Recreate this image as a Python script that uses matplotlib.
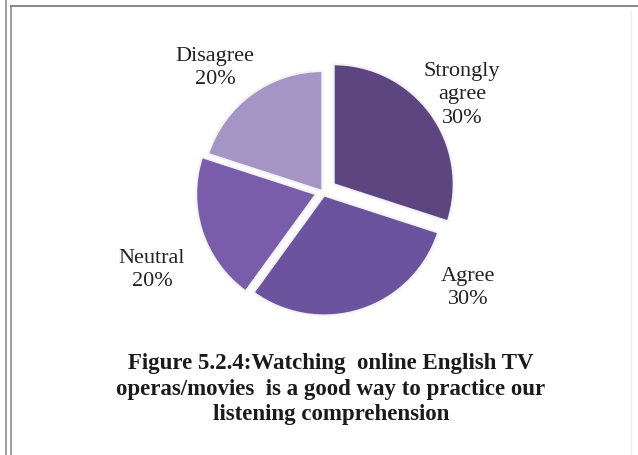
import matplotlib
matplotlib.use("Agg")
import matplotlib.pyplot as plt
from matplotlib.lines import Line2D

# data
categories = ["Strongly\nagree", "Agree", "Neutral", "Disagree"]
values = [30, 30, 20, 20]
colors = ["#5d4680", "#6b539d", "#7a5daa", "#a495c5"]
explode = [0.11, 0.03, 0.06, 0.01]
caption = ("Figure 5.2.4:Watching  online English TV\n"
           "operas/movies  is a good way to practice our\n"
           "listening comprehension")

# label positions in pixel (x from left, y from top)
label_px = [(462, 95), (468, 288), (152, 270), (215, 68)]

W, H = 638, 456
cx, cy, R = 323, 193, 120
plt.rcParams['font.family'] = ['Liberation Serif', 'DejaVu Serif']

fig = plt.figure(figsize=(W / 100, H / 100), dpi=100)
L = 1.4
S = 2 * L * R
ax = fig.add_axes([(cx - S / 2) / W, (H - cy - S / 2) / H, S / W, S / H])

ax.pie(values, colors=colors, explode=explode, startangle=90,
       counterclock=False,
       wedgeprops=dict(edgecolor="#f4f2f6", linewidth=1.5))
ax.set_xlim(-L, L)
ax.set_ylim(-L, L)
ax.set_aspect("equal")
ax.axis("off")

total = sum(values)
for name, v, (px, py) in zip(categories, values, label_px):
    ax.text((px - cx) / R, (cy - py) / R, f"{name}\n{v / total:.0%}",
            ha="center", va="center", fontsize=16, color="#222222",
            linespacing=1.3)

fig.text(331 / W, 1 - 389 / H, caption, ha="center", va="center",
         fontsize=16.5, fontweight="bold", color="#1a1a1a", linespacing=1.3)

# frame
gray = "#8c8c8c"
fig.add_artist(Line2D([6 / W, 6 / W], [0, 1], color=gray, lw=1.2))
fig.add_artist(Line2D([11 / W, 11 / W], [0, 1 - 7 / H], color=gray, lw=1.2))
fig.add_artist(Line2D([11 / W, 1], [1 - 7 / H, 1 - 7 / H], color=gray, lw=1.5))
fig.add_artist(Line2D([631 / W, 631 / W], [0, 1 - 12 / H], color="#ececec", lw=1))

fig.savefig("out.png", dpi=100)
